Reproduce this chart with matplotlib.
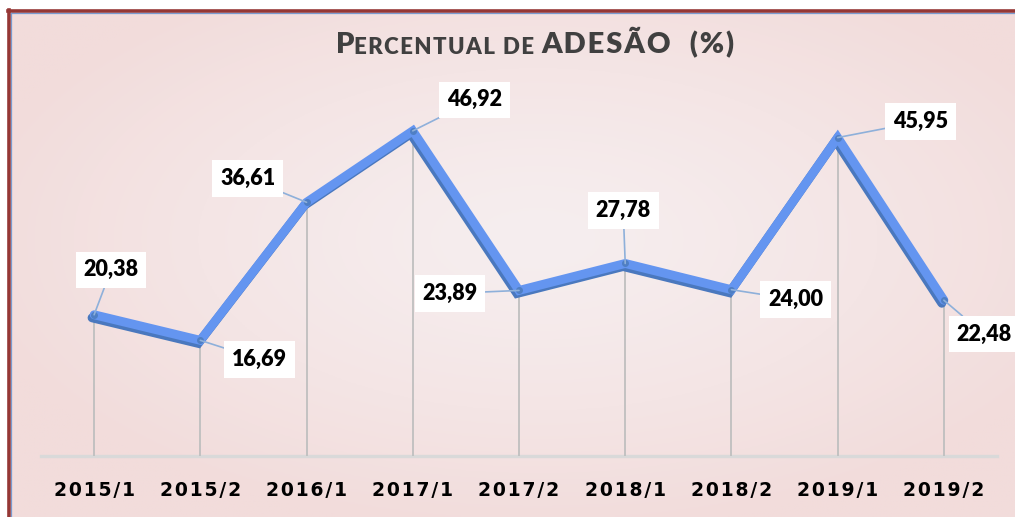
import numpy as np
import matplotlib
matplotlib.use("Agg")
import matplotlib.pyplot as plt
import matplotlib.patheffects as pe
from matplotlib.lines import Line2D

periods = ["2015/1", "2015/2", "2016/1", "2017/1", "2017/2", "2018/1", "2018/2", "2019/1", "2019/2"]
adesao = [20.38, 16.69, 36.61, 46.92, 23.89, 27.78, 24.00, 45.95, 22.48]
value_labels = ["20,38", "16,69", "36,61", "46,92", "23,89", "27,78", "24,00", "45,95", "22,48"]
# label box offset from the point, in pixels (right, up)
label_offsets = [(17, 45), (59, -19), (-59, 24), (62, 31), (-69, -3),
                 (-2, 53), (64, -10), (83, 16), (40, -34)]

W, H, DPI = 1015, 517, 100
fig = plt.figure(figsize=(W / DPI, H / DPI), dpi=DPI, facecolor="white")

# ── background panel with soft radial gradient ──
bg = fig.add_axes([8 / W, 0, 1 - 8 / W, 1 - 10 / H])
bg.set_axis_off()
yy, xx = np.mgrid[0:200, 0:400]
r = np.sqrt(((xx - 210) / 230.0) ** 2 + ((yy - 90) / 115.0) ** 2)
t = np.clip(r, 0, 1) ** 1.3
edge = np.array([242, 220, 219]) / 255.0
centre = np.array([246, 238, 239]) / 255.0
img = centre[None, None, :] * (1 - t[..., None]) + edge[None, None, :] * t[..., None]
bg.imshow(img, aspect="auto", extent=[0, 1, 0, 1], origin="upper")
bg.set_xlim(0, 1); bg.set_ylim(0, 1)

# frame lines (dark red outside, blue inside) on top and left
fig.add_artist(Line2D([8 / W, 1], [1 - 10.5 / H, 1 - 10.5 / H], transform=fig.transFigure, color="#953735", lw=2.6))
fig.add_artist(Line2D([9 / W, 9 / W], [0, 1 - 9.5 / H], transform=fig.transFigure, color="#953735", lw=2.6))
fig.add_artist(Line2D([11 / W, 1], [1 - 12.6 / H, 1 - 12.6 / H], transform=fig.transFigure, color="#7A9BD0", lw=0.9))
fig.add_artist(Line2D([11.3 / W, 11.3 / W], [0, 1 - 12.6 / H], transform=fig.transFigure, color="#7A9BD0", lw=0.9))

# ── main chart ──
ax = fig.add_axes([41 / W, 61 / H, 956 / W, 346.5 / H])
ax.patch.set_alpha(0)
x = np.arange(len(periods)) + 0.5
ax.set_xlim(0, len(periods))
ax.set_ylim(0, 50)
for s in ax.spines.values():
    s.set_visible(False)
ax.set_yticks([])
ax.axhline(0, color="#D9D9D9", lw=2.4, zorder=1, clip_on=False)
ax.vlines(x, 0, adesao, color="#BFBFBF", lw=1.3, zorder=2)

ax.plot(x, adesao, color="#6495F0", lw=6.4, solid_joinstyle="miter", solid_capstyle="round", zorder=3,
        path_effects=[pe.SimpleLineShadow(offset=(-1.5, -2.2), shadow_color="#4A78BE", alpha=1.0),
                      pe.Normal()])
ax.plot(x, adesao, "o", color="#4F7FC4", ms=4, zorder=4)

ax.set_xticks(x)
ax.set_xticklabels(["\u200a".join(p) for p in periods], fontsize=13.5, fontweight="bold",
                   family=["DejaVu Sans"], color="black")
ax.tick_params(axis="x", length=0, pad=18)

for xi, yi, lab, (dx, dy) in zip(x, adesao, value_labels, label_offsets):
    ax.annotate(lab, xy=(xi, yi), xytext=(dx * 0.72, dy * 0.72), textcoords="offset points",
                ha="center", va="center", fontsize=15.5, fontweight="heavy",
                family=["Lato", "DejaVu Sans"], color="black", zorder=6,
                bbox=dict(boxstyle="square,pad=0.36", fc="white", ec="none"),
                arrowprops=dict(arrowstyle="-", color="#8EB0DA", lw=1.2, shrinkA=0, shrinkB=0),
                annotation_clip=False)

# ── title in small caps, drawn piece by piece ──
title_parts = [("P", 21), ("ERCENTUAL DE ", 16), ("ADESÃO  (%)", 21)]
tkw = dict(fontweight="heavy", color="#404040", family=["Lato", "DejaVu Sans"])
prev = fig.text(336 / W, 1 - 53 / H, title_parts[0][0], fontsize=title_parts[0][1],
                ha="left", va="baseline", **tkw)
for txt, fs in title_parts[1:]:
    prev = ax.annotate("\u200a".join(txt), xy=(1, 0), xycoords=prev, ha="left", va="bottom",
                       fontsize=fs, annotation_clip=False, **tkw)

fig.savefig("out.png", dpi=DPI, facecolor="white")
